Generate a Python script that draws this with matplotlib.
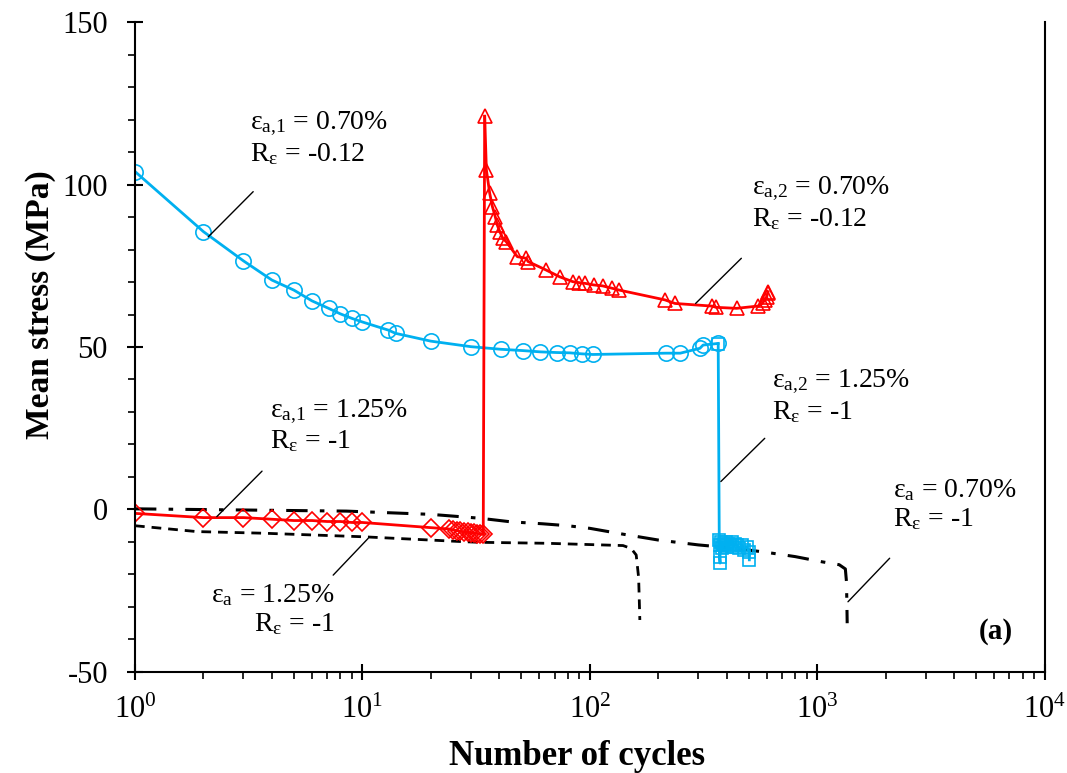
import matplotlib
matplotlib.use("Agg")
import matplotlib.pyplot as plt
from matplotlib.ticker import LogLocator, MultipleLocator, LogFormatterMathtext, NullFormatter

plt.rcParams['font.family'] = ['Liberation Serif', 'DejaVu Serif']
plt.rcParams['mathtext.fontset'] = 'custom'
plt.rcParams['mathtext.rm'] = 'Liberation Serif'
plt.rcParams['mathtext.it'] = 'Liberation Serif:italic'
plt.rcParams['mathtext.bf'] = 'Liberation Serif:bold'
plt.rcParams['axes.unicode_minus'] = False

BLUE = '#00B0F0'
RED = '#FF0000'

# eps_a,1 = 0.70 %, R = -0.12 (circles)
n_c = [1, 2, 3, 4, 5, 6, 7.1, 8, 9, 10, 13, 14, 20, 30, 40.6, 50.6, 60.7, 71.4, 81.7, 92,
       103, 217, 250, 305, 315, 367]
s_c = [104, 85.5, 76.5, 70.6, 67.5, 64.2, 61.9, 60.2, 58.8, 57.7, 55.2, 54.2, 51.8, 50.1,
       49.3, 48.9, 48.5, 48.3, 48.2, 47.9, 47.7, 48.1, 48.1, 49.6, 50.6, 51.1]

# eps_a,2 = 1.25 %, R = -1 (squares)
n_s = [367, 371, 372, 374, 374, 378, 382, 386, 391, 396, 401, 407, 413, 420, 428, 436,
       445, 455, 466, 478, 490, 503, 503]
s_s = [51, -9.5, -14.5, -16.5, -11, -10, -12, -10.5, -11, -10, -11.5, -10.5, -11, -10,
       -11.5, -10.5, -11, -12, -11, -12.5, -11.5, -13, -15.5]

# eps_a,1 = 1.25 %, R = -1 (diamonds)
n_d = [1, 2, 3, 4, 5, 6, 7, 8, 9, 10, 20.1, 24, 25, 26, 27, 28, 29, 30, 31, 32, 33, 34]
s_d = [-1.2, -2.5, -2.5, -3.0, -3.4, -3.4, -3.7, -3.7, -4.0, -4.0, -5.6, -6.0, -6.3, -6.5,
       -6.7, -6.9, -7.0, -7.2, -7.3, -7.4, -7.5, -7.6]

# eps_a,2 = 0.70 %, R = -0.12 (triangles)
n_t = [34.5, 35.1, 36.3, 37.3, 38.4, 39.2, 40.2, 41.5, 42.9, 48, 52.6, 53.5, 64.2, 73.7,
       84.2, 90, 95, 104, 114, 125, 135, 214, 237, 343, 360, 442, 550, 575, 588, 600, 605, 608]
s_t = [121, 104.5, 97.3, 93.2, 90.1, 87.5, 85.5, 83.4, 82.4, 77.8, 77.3, 76.3, 73.7, 71.6,
       70.1, 69.8, 69.6, 69.1, 68.8, 68.1, 67.5, 64.5, 63.4, 62.6, 62.2, 61.9, 62.6, 63.5,
       64.5, 65.5, 66.5, 67.0]

# eps_a = 0.70 %, R = -1 (dash-dot)
n_dd = [1, 8.5, 20, 33, 45, 62, 80, 100, 140, 200, 300, 430, 600, 800, 1050, 1250, 1330,
        1345, 1350, 1355]
s_dd = [0.2, -0.5, -1.5, -2.7, -3.8, -4.4, -5.0, -5.8, -7.6, -9.4, -10.9, -11.9, -13.2,
        -14.5, -16.1, -17.0, -18.3, -22.2, -28, -35]

# eps_a = 1.25 %, R = -1 (dashed)
n_da = [1, 1.87, 3.66, 10.1, 27.7, 32.8, 64.5, 140, 152, 160, 164, 166]
s_da = [-5.0, -6.8, -7.3, -8.4, -9.9, -10.1, -10.4, -11.1, -12, -14, -21, -34]

fig = plt.figure(figsize=(10.67, 7.73), dpi=100)
ax = fig.add_axes([0.1265, 0.1307, 0.8525, 0.8408])

ax.plot(n_dd, s_dd, color='black', lw=2.2, dashes=(7, 4, 1.5, 4))
ax.plot(n_da, s_da, color='black', lw=2.0, dashes=(3.5, 2.5))
ax.plot(n_d, s_d, color=RED, lw=2, marker='D', ms=9, mfc='none', mec=RED, mew=1.2)
ax.plot(n_t, s_t, color=RED, lw=2, marker='^', ms=10, mfc='none', mec=RED, mew=1.2)
ax.plot(n_c, s_c, color=BLUE, lw=2, marker='o', ms=11, mfc='none', mec=BLUE, mew=1.2)
ax.plot(n_s, s_s, color=BLUE, lw=2, marker='s', ms=9, mfc='none', mec=BLUE, mew=1.2)
ax.plot([n_d[-1], n_t[0]], [s_d[-1], s_t[0]], color=RED, lw=2)

ax.set_xscale('log')
ax.set_xlim(1, 1e4)
ax.set_ylim(-50, 150)
ax.xaxis.set_major_locator(LogLocator(base=10, numticks=10))
ax.xaxis.set_minor_locator(LogLocator(base=10, subs=range(2, 10), numticks=50))
ax.xaxis.set_major_formatter(LogFormatterMathtext())
ax.xaxis.set_minor_formatter(NullFormatter())
ax.yaxis.set_major_locator(MultipleLocator(50))
ax.yaxis.set_minor_locator(MultipleLocator(10))

ax.spines['top'].set_visible(False)
for sp in ['left', 'bottom', 'right']:
    ax.spines[sp].set_linewidth(1.5)
ax.tick_params(which='major', direction='inout', length=11, width=1.5, labelsize=22, pad=12)
ax.tick_params(which='minor', direction='out', length=5, width=1.2)
ax.tick_params(axis='y', which='major', pad=14)

ax.set_xlabel('Number of cycles', fontsize=25, fontweight='bold')
ax.set_ylabel('Mean stress (MPa)', fontsize=24, fontweight='bold')
ax.xaxis.set_label_coords(0.486, -0.105)
ax.yaxis.set_label_coords(-0.087, 0.565)

fs = 20
ax.text(3.2, 123, 'ε$_{\\mathregular{a{,}1}}$ = 0.70%\nR$_{\\mathregular{ε}}$ = -0.12',
        fontsize=fs, va='top', ha='left', linespacing=1.15)
ax.text(515, 103, 'ε$_{\\mathregular{a{,}2}}$ = 0.70%\nR$_{\\mathregular{ε}}$ = -0.12',
        fontsize=fs, va='top', ha='left', linespacing=1.15)
ax.text(3.92, 34.5, 'ε$_{\\mathregular{a{,}1}}$ = 1.25%\nR$_{\\mathregular{ε}}$ = -1',
        fontsize=fs, va='top', ha='left', linespacing=1.15)
ax.text(7.57, -22.3, 'ε$_{\\mathregular{a}}$ = 1.25%\nR$_{\\mathregular{ε}}$ = -1',
        fontsize=fs, va='top', ha='right', multialignment='right', linespacing=1.15)
ax.text(631, 43.5, 'ε$_{\\mathregular{a{,}2}}$ = 1.25%\nR$_{\\mathregular{ε}}$ = -1',
        fontsize=fs, va='top', ha='left', linespacing=1.15)
ax.text(2148, 10, 'ε$_{\\mathregular{a}}$ = 0.70%\nR$_{\\mathregular{ε}}$ = -1',
        fontsize=fs, va='top', ha='left', linespacing=1.15)
ax.text(7230, -37.7, '(a)', fontsize=21, fontweight='bold', va='center', ha='right')

leaders = [((3.31, 97.8), (2.10, 83.9)),
           ((464, 77.3), (292, 63.4)),
           ((3.62, 11.8), (2.29, -2.2)),
           ((7.44, -20.2), (10.6, -8.9)),
           ((588, 21.9), (377, 8.6)),
           ((2083, -15.0), (1366, -28.4))]
for start, end in leaders:
    ax.annotate('', xy=end, xytext=start,
                arrowprops=dict(arrowstyle='-', color='black', lw=1, shrinkA=0, shrinkB=0))

fig.savefig('out.png', dpi=100)
